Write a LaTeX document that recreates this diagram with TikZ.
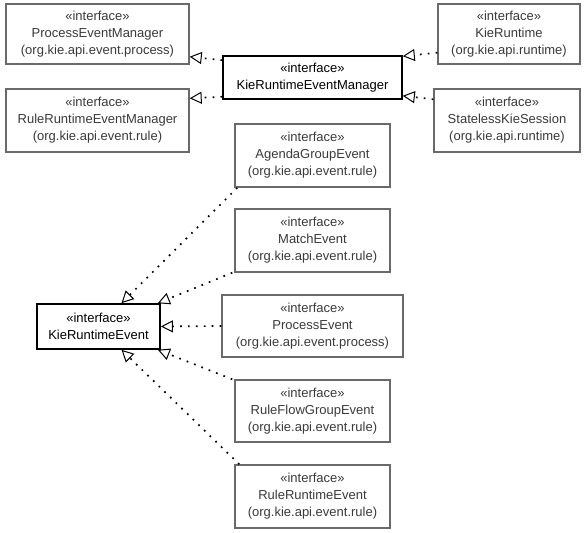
\documentclass[tikz,border=0pt]{standalone}
\usepackage{fontspec}
\setmainfont{Liberation Sans}
\usetikzlibrary{arrows.meta}
\definecolor{boxgray}{HTML}{6A6A6A}
\definecolor{txtgray}{HTML}{3A3A3A}
\tikzset{
  iface/.style={draw=boxgray, line width=1.4pt, fill=white, align=center, inner sep=0pt,
    font=\fontsize{13}{17}\selectfont, text=txtgray},
  main/.style={draw=black, line width=1.6pt, fill=white, align=center, inner sep=0pt,
    font=\fontsize{13}{17}\selectfont, text=black},
  real/.style={line width=1.7pt, dash pattern=on 1.7pt off 6.2pt,
    -{Triangle[open, length=12pt, width=12pt, line width=1pt, fill=white]}}
}
\begin{document}
\begin{tikzpicture}[x=1pt, y=-1pt]
\useasboundingbox (0,0) rectangle (587,533);
\node[iface, minimum width=183pt, minimum height=60pt] (pem) at (97.5,34) {«interface»\\ProcessEventManager\\(org.kie.api.event.process)};
\node[iface, minimum width=183pt, minimum height=63pt] (rrem) at (97.5,120.5) {«interface»\\RuleRuntimeEventManager\\(org.kie.api.event.rule)};
\node[main, minimum width=179pt, minimum height=43pt] (krem) at (312.5,77.5) {«interface»\\KieRuntimeEventManager};
\node[iface, minimum width=142pt, minimum height=60pt] (kr) at (509,34) {«interface»\\KieRuntime\\(org.kie.api.runtime)};
\node[iface, minimum width=146pt, minimum height=63pt] (sks) at (507,120.5) {«interface»\\StatelessKieSession\\(org.kie.api.runtime)};
\node[iface, minimum width=155pt, minimum height=63pt] (age) at (312.5,155.5) {«interface»\\AgendaGroupEvent\\(org.kie.api.event.rule)};
\node[iface, minimum width=155pt, minimum height=63pt] (me) at (312.5,240.5) {«interface»\\MatchEvent\\(org.kie.api.event.rule)};
\node[iface, minimum width=181pt, minimum height=62pt] (pe) at (312.5,326) {«interface»\\ProcessEvent\\(org.kie.api.event.process)};
\node[iface, minimum width=155pt, minimum height=62pt] (rfge) at (312.5,411) {«interface»\\RuleFlowGroupEvent\\(org.kie.api.event.rule)};
\node[iface, minimum width=155pt, minimum height=63pt] (rre) at (312.5,496.5) {«interface»\\RuleRuntimeEvent\\(org.kie.api.event.rule)};
\node[main, minimum width=123pt, minimum height=45pt] (kre) at (98.5,326.5) {«interface»\\KieRuntimeEvent};

\draw[real] ([yshift=-5pt]krem.north west) -- ([yshift=8pt]pem.south east);
\draw[real] ([yshift=3pt]krem.south west) -- ([yshift=-10pt]rrem.north east);
\draw[real] ([yshift=12pt]kr.south west) -- ([yshift=-1pt]krem.north east);
\draw[real] ([yshift=-11pt]sks.north west) -- ([yshift=4pt]krem.south east);
\draw[real] ([xshift=3pt]age.south west) -- ([xshift=23pt]kre.north);
\draw[real] ([xshift=-2pt]me.south west) -- ([xshift=-3pt]kre.north east);
\draw[real] (pe.west) -- (kre.east);
\draw[real] ([xshift=-2pt]rfge.north west) -- ([xshift=-3pt]kre.south east);
\draw[real] ([xshift=5pt]rre.north west) -- ([xshift=23pt]kre.south);
\end{tikzpicture}
\end{document}
